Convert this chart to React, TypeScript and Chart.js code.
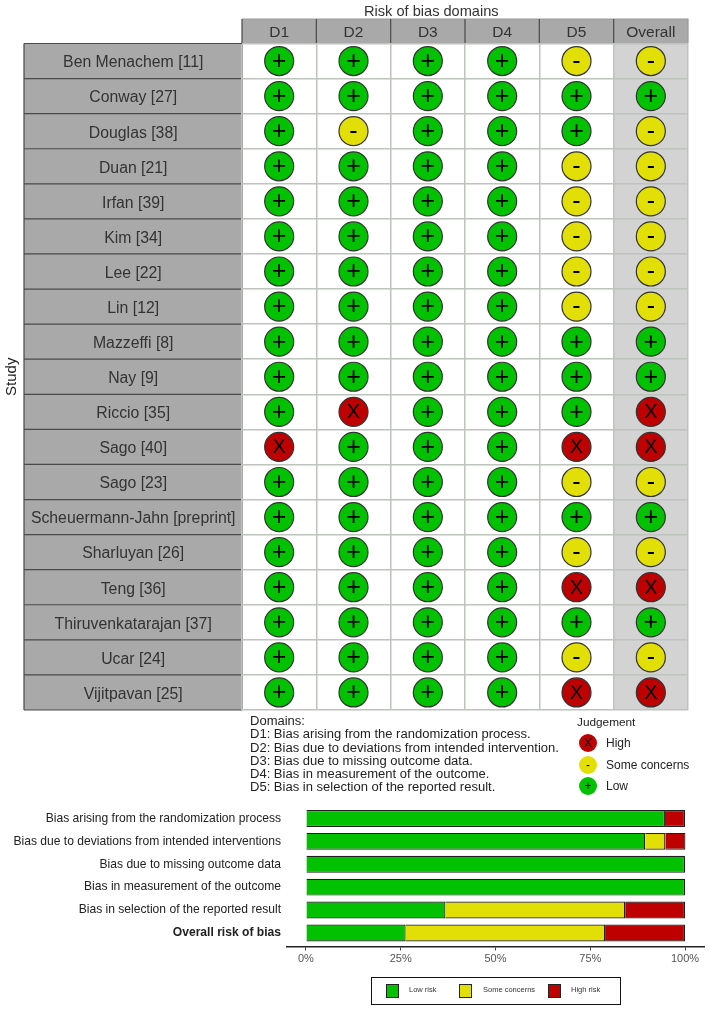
import React, { useEffect, useRef } from "react";
import { Chart, registerables } from "chart.js";

Chart.register(...registerables);

const FONT = "'Liberation Sans', Arial, sans-serif";

const studies = [
  "Ben Menachem [11]", "Conway [27]", "Douglas [38]", "Duan [21]", "Irfan [39]", "Kim [34]", "Lee [22]",
  "Lin [12]", "Mazzeffi [8]", "Nay [9]", "Riccio [35]", "Sago [40]", "Sago [23]",
  "Scheuermann-Jahn [preprint]", "Sharluyan [26]", "Teng [36]", "Thiruvenkatarajan [37]", "Ucar [24]", "Vijitpavan [25]",
];
const domains = ["D1", "D2", "D3", "D4", "D5", "Overall"];

const d1 = ["L","L","L","L","L","L","L","L","L","L","L","H","L","L","L","L","L","L","L"];
const d2 = ["L","L","S","L","L","L","L","L","L","L","H","L","L","L","L","L","L","L","L"];
const d3 = ["L","L","L","L","L","L","L","L","L","L","L","L","L","L","L","L","L","L","L"];
const d4 = ["L","L","L","L","L","L","L","L","L","L","L","L","L","L","L","L","L","L","L"];
const d5 = ["S","L","L","S","S","S","S","S","L","L","L","H","S","L","S","H","L","S","H"];
const overall = ["S","L","S","S","S","S","S","S","L","L","H","H","S","L","S","H","L","S","H"];
const columns = [d1, d2, d3, d4, d5, overall];

const domainNotes = [
  "Domains:",
  "D1: Bias arising from the randomization process.",
  "D2: Bias due to deviations from intended intervention.",
  "D3: Bias due to missing outcome data.",
  "D4: Bias in measurement of the outcome.",
  "D5: Bias in selection of the reported result.",
];

const summaryLabels = [
  "Bias arising from the randomization process",
  "Bias due to deviations from intended interventions",
  "Bias due to missing outcome data",
  "Bias in measurement of the outcome",
  "Bias in selection of the reported result",
  "Overall risk of bias",
];
const lowRisk = [94.7, 89.5, 100, 100, 36.8, 26.3];
const someConcerns = [0, 5.3, 0, 0, 47.4, 52.6];
const highRisk = [5.3, 5.3, 0, 0, 15.8, 21.1];
const percentTicks = [0, 25, 50, 75, 100];

const GREEN = "#02C100";
const YELLOW = "#E2DF07";
const RED = "#BF0000";
const levels = [
  { code: "H", name: "High", symbol: "X", size: 20, color: RED },
  { code: "S", name: "Some concerns", symbol: "-", size: 25, color: YELLOW },
  { code: "L", name: "Low", symbol: "+", size: 25, color: GREEN },
];

const tableBackdrop = {
  id: "tableBackdrop",
  beforeDraw(chart: any) {
    const { ctx, scales: { x, y } } = chart;
    const half = x.getPixelForValue(1) - x.getPixelForValue(0);
    const left = 24;
    ctx.save();
    ctx.fillStyle = "#D3D3D3";
    ctx.fillRect(x.getPixelForValue(5) - half / 2, y.top, half, y.bottom - y.top);
    ctx.fillStyle = "#A9A9A9";
    ctx.fillRect(x.left, 19, x.right - x.left, y.top - 19);
    ctx.fillRect(left, y.top, x.left - left, y.bottom - y.top);
    ctx.strokeStyle = "#9a9a9a";
    ctx.lineWidth = 1.2;
    ctx.beginPath();
    ctx.moveTo(x.left, 19);
    ctx.lineTo(x.right, 19);
    ctx.lineTo(x.right, y.top);
    ctx.stroke();
    ctx.strokeStyle = "#4a4a4a";
    ctx.beginPath();
    for (let i = 0; i < domains.length; i++) {
      const px = x.getPixelForValue(i) - half / 2;
      ctx.moveTo(px, 19);
      ctx.lineTo(px, y.top);
    }
    const band = y.getPixelForValue(1) - y.getPixelForValue(0);
    for (let i = 0; i <= studies.length; i++) {
      const py = y.getPixelForValue(i) - band / 2;
      ctx.moveTo(left, py);
      ctx.lineTo(x.left, py);
    }
    ctx.moveTo(left, y.top);
    ctx.lineTo(left, y.bottom);
    ctx.moveTo(x.left, y.top);
    ctx.lineTo(x.left, y.bottom);
    ctx.stroke();
    ctx.restore();
  },
};

const symbolLabels = {
  id: "symbolLabels",
  afterDatasetsDraw(chart: any) {
    const { ctx } = chart;
    ctx.save();
    ctx.fillStyle = "#000";
    ctx.textAlign = "center";
    ctx.textBaseline = "middle";
    chart.data.datasets.forEach((ds: any, i: number) => {
      ctx.font = `${ds.symbolSize}px ${FONT}`;
      chart.getDatasetMeta(i).data.forEach((pt: any) => {
        ctx.fillText(ds.symbol, pt.x, pt.y + 1);
      });
    });
    ctx.restore();
  },
};

function TrafficLight() {
  const ref = useRef<HTMLCanvasElement>(null);
  useEffect(() => {
    const datasets = levels.map((lv) => {
      const data: { x: string; y: string }[] = [];
      columns.forEach((col, c) =>
        col.forEach((v, r) => {
          if (v === lv.code) data.push({ x: domains[c], y: studies[r] });
        })
      );
      return {
        label: lv.name,
        symbol: lv.symbol,
        symbolSize: lv.size,
        data,
        pointStyle: "circle",
        pointRadius: 14.5,
        pointBackgroundColor: lv.color,
        pointBorderColor: "#333",
        pointBorderWidth: 1.2,
      };
    });
    const chart = new Chart(ref.current!, {
      type: "scatter",
      data: { datasets } as any,
      plugins: [tableBackdrop, symbolLabels],
      options: {
        responsive: false,
        animation: false,
        events: [],
        layout: { padding: { top: 0, left: 0, right: 21, bottom: 90 } },
        plugins: { legend: { display: false }, tooltip: { enabled: false } },
        scales: {
          x: {
            type: "category",
            position: "top",
            labels: domains,
            offset: true,
            afterFit: (s: any) => { s.height = 43.5; },
            border: { display: false },
            grid: { offset: true, color: "#BCC4BC", lineWidth: 1.5, drawTicks: false },
            ticks: { color: "#333", padding: 1, maxRotation: 0, font: { family: FONT, size: 15.5 } },
          },
          y: {
            type: "category",
            labels: studies,
            offset: true,
            afterFit: (s: any) => { s.width = 242; },
            border: { display: false },
            grid: { offset: true, color: "#BCC4BC", lineWidth: 1.5, drawTicks: false },
            ticks: {
              color: "#333", crossAlign: "center", padding: 6.5, autoSkip: false, labelOffset: 2,
              font: { family: FONT, size: 15.8 },
            },
            title: {
              display: true, text: "Study", color: "#222",
              padding: { top: 3, bottom: 0 }, font: { family: FONT, size: 15 },
            },
          },
        },
      },
    } as any);
    return () => chart.destroy();
  }, []);
  return <canvas ref={ref} width={709} height={800} style={{ position: "absolute", left: 0, top: 0 }} />;
}

function SummaryBars() {
  const ref = useRef<HTMLCanvasElement>(null);
  useEffect(() => {
    const bar = (label: string, data: number[], color: string) => ({
      label, data, backgroundColor: color, borderColor: "#1f1f1f", borderWidth: 1.2,
      barPercentage: 0.74, categoryPercentage: 1,
    });
    const chart = new Chart(ref.current!, {
      type: "bar",
      data: {
        labels: summaryLabels,
        datasets: [bar("Low risk", lowRisk, GREEN), bar("Some concerns", someConcerns, YELLOW), bar("High risk", highRisk, RED)],
      },
      options: {
        responsive: false,
        animation: false,
        events: [],
        indexAxis: "y",
        layout: { padding: { top: 7, left: 0, right: 5, bottom: 64.6 } },
        plugins: { legend: { display: false }, tooltip: { enabled: false } },
        scales: {
          x: {
            type: "linear",
            position: { y: 5.6 },
            stacked: true,
            min: -5,
            max: 105,
            afterBuildTicks: (s: any) => { s.ticks = percentTicks.map((value) => ({ value })); },
            afterFit: (s: any) => { s.paddingLeft = 0; s.paddingRight = 0; s.paddingTop = 0; s.paddingBottom = 0; },
            border: { display: true, color: "#222", width: 1.5 },
            grid: { drawOnChartArea: false, drawTicks: true, tickLength: 3, color: "#444" },
            ticks: {
              color: "#555", padding: 3, maxRotation: 0, autoSkip: false,
              font: { family: FONT, size: 11 },
              callback: (v: any) => `${v}%`,
            },
          },
          y: {
            type: "category",
            stacked: true,
            afterFit: (s: any) => { s.width = 287; s.paddingTop = 0; s.paddingBottom = 0; },
            border: { display: false },
            grid: { display: false, drawTicks: false },
            ticks: {
              color: "#222", padding: 6, autoSkip: false,
              font: (ctx: any) => ({ family: FONT, size: 12.1, weight: ctx.index === 5 ? "bold" : "normal" }),
            },
          },
        },
      },
    } as any);
    return () => chart.destroy();
  }, []);
  return <canvas ref={ref} width={709} height={209} style={{ position: "absolute", left: 0, top: 800 }} />;
}

const textAt = (left: number, top: number, size: number, color = "#222"): React.CSSProperties => ({
  position: "absolute", left, top, fontFamily: FONT, fontSize: size, color, whiteSpace: "nowrap", lineHeight: "14px",
});

const judgementY = [743, 765, 786];
const barLegend = [
  { name: "Low risk", color: GREEN, box: 385.5, text: 409 },
  { name: "Some concerns", color: YELLOW, box: 459, text: 483 },
  { name: "High risk", color: RED, box: 547.5, text: 571 },
];

export default function App() {
  return (
    <div style={{ position: "absolute", left: 0, top: 0, width: 709, height: 1009, overflow: "hidden", background: "#fff" }}>
      <TrafficLight />
      <SummaryBars />
      <div style={textAt(364, 3.5, 14.6, "#333")}>Risk of bias domains</div>
      {domainNotes.map((t, i) => (
        <div key={t} style={textAt(250, 714 + i * 13.25, 13.03)}>{t}</div>
      ))}
      <div style={textAt(577, 715, 11.8)}>Judgement</div>
      {levels.map((lv, i) => (
        <React.Fragment key={lv.code}>
          <div style={{
            position: "absolute", left: 578.7, top: judgementY[i] - 9.3, width: 18.6, height: 18.6, borderRadius: "50%",
            background: lv.color, textAlign: "center", fontFamily: FONT, fontSize: 12, lineHeight: "18.6px", color: "#000",
          }}>{lv.symbol}</div>
          <div style={textAt(606, judgementY[i] - 7, 12)}>{lv.name}</div>
        </React.Fragment>
      ))}
      <div style={{ position: "absolute", left: 371, top: 977, width: 248, height: 26, border: "1.2px solid #111" }} />
      {barLegend.map((b) => (
        <React.Fragment key={b.name}>
          <div style={{ position: "absolute", left: b.box, top: 984, width: 11, height: 12, background: b.color, border: "1px solid #222" }} />
          <div style={textAt(b.text, 983, 7.5, "#333")}>{b.name}</div>
        </React.Fragment>
      ))}
    </div>
  );
}
